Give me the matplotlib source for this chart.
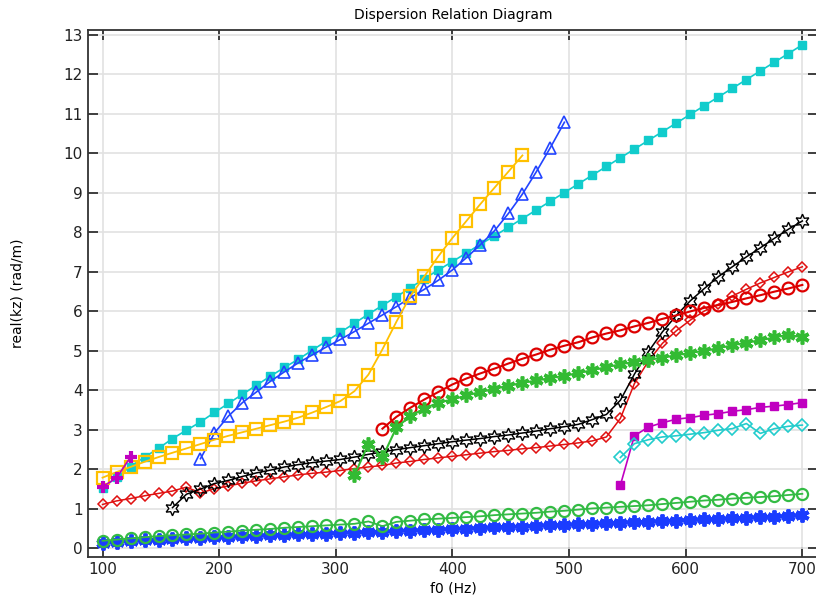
import numpy as np
import matplotlib
matplotlib.use("Agg")
import matplotlib.pyplot as plt

# ---------------- data ----------------
f_full = list(range(100, 701, 12))          # 51 points
f_tri = list(range(184, 497, 12))           # 27 points
f_yel = list(range(100, 461, 12))           # 31 points
f_plus = [100, 112, 124]
f_star6 = list(range(160, 701, 12))         # 46 points
f_circ_red = list(range(340, 701, 12))      # 31 points
f_ast_green = list(range(316, 701, 12))     # 33 points
f_late = list(range(544, 701, 12))          # 14 points

cyan_sq = [1.52, 1.80, 2.07, 2.31, 2.53, 2.78, 2.99, 3.20, 3.44, 3.67,
           3.90, 4.13, 4.36, 4.58, 4.79, 5.02, 5.25, 5.47, 5.70, 5.93,
           6.15, 6.37, 6.60, 6.83, 7.05, 7.26, 7.48, 7.70, 7.91, 8.13,
           8.35, 8.57, 8.79, 9.01, 9.23, 9.45, 9.67, 9.89, 10.11, 10.33,
           10.55, 10.77, 10.99, 11.21, 11.43, 11.65, 11.87, 12.09, 12.31, 12.53,
           12.75]

blue_tri = [2.27, 2.92, 3.35, 3.69, 3.96, 4.23, 4.47, 4.70, 4.90, 5.10,
            5.29, 5.49, 5.70, 5.91, 6.12, 6.35, 6.56, 6.79, 7.05, 7.36,
            7.69, 8.04, 8.48, 8.97, 9.54, 10.15, 10.79]

yellow_sq = [1.79, 1.93, 2.06, 2.19, 2.31, 2.42, 2.53, 2.64, 2.75, 2.85,
             2.94, 3.03, 3.12, 3.21, 3.31, 3.44, 3.58, 3.73, 3.98, 4.40,
             5.04, 5.74, 6.39, 6.89, 7.40, 7.86, 8.29, 8.72, 9.13, 9.54,
             9.95]

magenta_plus = [1.56, 1.78, 2.31]

red_diamond = [1.11, 1.20, 1.26, 1.33, 1.39, 1.45, 1.55, 1.40, 1.51, 1.58,
               1.65, 1.71, 1.76, 1.81, 1.86, 1.90, 1.93, 1.97, 2.02, 2.06,
               2.10, 2.16, 2.20, 2.25, 2.29, 2.33, 2.37, 2.41, 2.45, 2.48,
               2.52, 2.55, 2.59, 2.63, 2.67, 2.72, 2.82, 3.29, 4.17, 4.74,
               5.19, 5.51, 5.78, 6.01, 6.18, 6.39, 6.56, 6.72, 6.86, 7.00,
               7.13]

black_star = [1.03, 1.37, 1.50, 1.64, 1.72, 1.82, 1.91, 1.98, 2.06, 2.12,
              2.17, 2.21, 2.25, 2.31, 2.38, 2.44, 2.50, 2.55, 2.60, 2.65,
              2.70, 2.74, 2.78, 2.83, 2.87, 2.92, 2.97, 3.03, 3.08, 3.14,
              3.26, 3.39, 3.75, 4.41, 4.98, 5.48, 5.90, 6.27, 6.58, 6.88,
              7.13, 7.38, 7.61, 7.85, 8.08, 8.29]

red_circle = [3.03, 3.33, 3.56, 3.77, 3.96, 4.15, 4.30, 4.43, 4.55, 4.68,
              4.80, 4.91, 5.03, 5.13, 5.22, 5.34, 5.44, 5.52, 5.62, 5.71,
              5.81, 5.90, 6.00, 6.09, 6.16, 6.24, 6.33, 6.41, 6.50, 6.58,
              6.67]

green_ast = [1.85, 2.65, 2.30, 3.06, 3.35, 3.54, 3.69, 3.77, 3.87, 3.96,
             4.04, 4.12, 4.19, 4.25, 4.31, 4.37, 4.44, 4.51, 4.59, 4.66,
             4.72, 4.77, 4.83, 4.89, 4.95, 5.00, 5.07, 5.14, 5.21, 5.27,
             5.34, 5.41, 5.34]

green_circle = [0.19, 0.22, 0.25, 0.28, 0.31, 0.33, 0.35, 0.37, 0.40, 0.42,
                0.45, 0.47, 0.49, 0.52, 0.54, 0.56, 0.58, 0.60, 0.62, 0.68,
                0.56, 0.67, 0.70, 0.73, 0.75, 0.77, 0.79, 0.81, 0.84, 0.86,
                0.88, 0.90, 0.93, 0.95, 0.98, 1.01, 1.03, 1.05, 1.07, 1.09,
                1.12, 1.15, 1.18, 1.21, 1.23, 1.26, 1.28, 1.30, 1.32, 1.35,
                1.38]

blue_ast = [0.14, 0.17, 0.19, 0.20, 0.22, 0.23, 0.25, 0.26, 0.28, 0.29,
            0.30, 0.32, 0.33, 0.34, 0.35, 0.36, 0.37, 0.39, 0.40, 0.41,
            0.42, 0.44, 0.45, 0.46, 0.47, 0.49, 0.50, 0.51, 0.53, 0.54,
            0.55, 0.57, 0.58, 0.59, 0.61, 0.62, 0.63, 0.65, 0.66, 0.67,
            0.69, 0.70, 0.72, 0.73, 0.74, 0.76, 0.77, 0.79, 0.80, 0.82,
            0.84]

magenta_sq = [1.60, 2.85, 3.07, 3.18, 3.27, 3.31, 3.37, 3.41, 3.47, 3.51,
              3.57, 3.60, 3.64, 3.69]

cyan_diamond = [2.30, 2.65, 2.75, 2.82, 2.85, 2.89, 2.93, 2.99, 3.03, 3.16,
                2.91, 3.03, 3.09, 3.12]

x_ticks = [100, 200, 300, 400, 500, 600, 700]
y_ticks = list(range(0, 14))

# ---------------- figure ----------------
plt.rcParams['font.family'] = ['DejaVu Sans']
fig = plt.figure(figsize=(8.16, 6.0), dpi=100)
ax = fig.add_axes([87.7 / 816, (600 - 557.3) / 600, 1.003 - 87.7 / 816, (557.3 - 29.7) / 600])

ast = (6, 2, 0)
star6 = (6, 1, 0)

ax.plot(f_full, blue_ast, color='#1a3cff', lw=3, marker=ast, ms=10, mew=2.8, zorder=3)
ax.plot(f_full, green_circle, color='#33bb44', lw=1.3, marker='o', ms=8, mfc='none', mew=1.6, zorder=4)
ax.plot(f_full, cyan_sq, color='#11cccc', lw=1.2, marker='s', ms=5.5, mfc='#11cccc', mec='#11cccc', zorder=3)
ax.plot(f_tri, blue_tri, color='#2244ff', lw=1.2, marker='^', ms=8, mfc='none', mew=1.2, zorder=4)
ax.plot(f_yel, yellow_sq, color='#ffc000', lw=1.3, marker='s', ms=8, mfc='none', mew=1.6, zorder=4)
ax.plot(f_plus, magenta_plus, color='#c000c0', lw=1.2, marker='+', ms=9, mew=3, zorder=5)
ax.plot(f_full, red_diamond, color='#e01010', lw=1.1, marker='D', ms=5.5, mfc='none', mew=1.1, zorder=4)
ax.plot(f_star6, black_star, color='black', lw=1.1, marker=star6, ms=10.5, mfc='none', mew=1.0, zorder=4)
ax.plot(f_circ_red, red_circle, color='#dd0000', lw=1.5, marker='o', ms=8.5, mfc='none', mew=1.6, zorder=4)
ax.plot(f_ast_green, green_ast, color='#33bb33', lw=1.5, marker=ast, ms=10, mew=2.6, zorder=4)
ax.plot(f_late, magenta_sq, color='#c000c0', lw=1.2, marker='s', ms=6, mfc='#c000c0', mec='#c000c0', zorder=4)
ax.plot(f_late, cyan_diamond, color='#22cccc', lw=1.2, marker='D', ms=6, mfc='none', mew=1.2, zorder=4)

ax.set_xlim(87.3, 713.8)
ax.set_ylim(-0.228, 13.134)
ax.set_xticks(x_ticks)
ax.set_yticks(y_ticks)
ax.grid(True, color='#e2e2e2', lw=1.2, zorder=0)
ax.set_axisbelow(True)
ax.tick_params(direction='in', top=True, right=True, length=7, width=1.2, labelsize=11, colors='#222222')
for s in ax.spines.values():
    s.set_color('#333333')
    s.set_linewidth(1.3)

ax.set_title('Dispersion Relation Diagram', fontsize=10, pad=8)
ax.set_xlabel('f0 (Hz)', fontsize=10, labelpad=3)
ax.set_ylabel('real(kz) (rad/m)', fontsize=10, labelpad=28)

fig.savefig('out.png', dpi=100)
